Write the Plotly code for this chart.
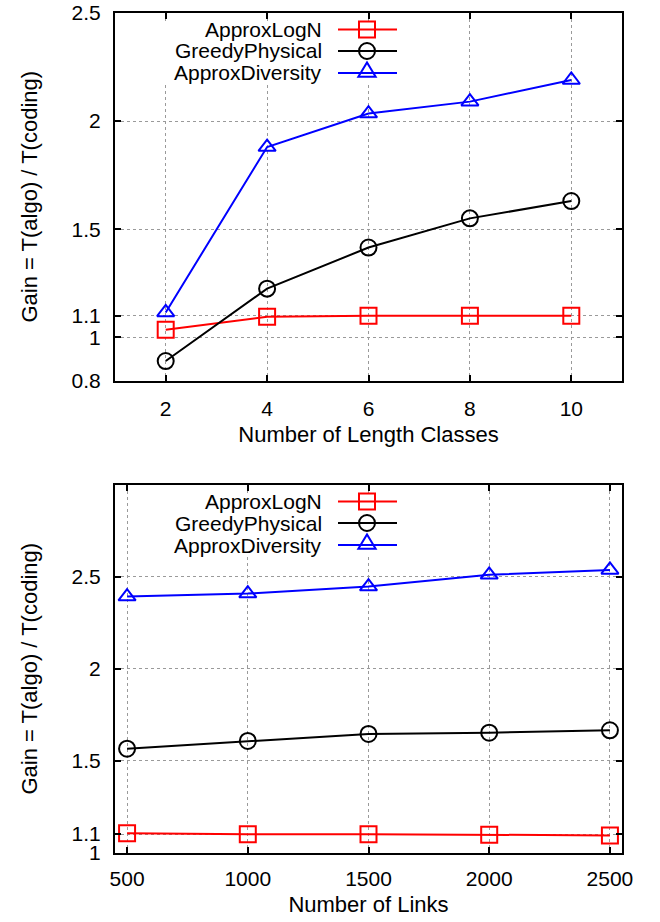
import plotly.graph_objects as go

# ---------------- data ----------------
series_names = ["ApproxLogN", "GreedyPhysical", "ApproxDiversity"]

length_classes = [2, 4, 6, 8, 10]
top_approxlogn = [1.035, 1.095, 1.1, 1.1, 1.1]
top_greedy = [0.89, 1.225, 1.415, 1.55, 1.63]
top_diversity = [1.115, 1.88, 2.035, 2.09, 2.19]

num_links = [500, 1000, 1500, 2000, 2500]
bot_approxlogn = [1.105, 1.1, 1.1, 1.096, 1.093]
bot_greedy = [1.565, 1.607, 1.645, 1.652, 1.665]
bot_diversity = [2.393, 2.409, 2.447, 2.511, 2.538]

top_yticks = [0.8, 1, 1.1, 1.5, 2, 2.5]
top_yticktext = ["0.8", "1", "1.1", "1.5", "2", "2.5"]
bot_yticks = [1, 1.1, 1.5, 2, 2.5, 3]
bot_yticktext = ["1", "1.1", "1.5", "2", "2.5", ""]

colors = ["#ff0000", "#000000", "#0000ff"]
symbols = ["square-open", "circle-open", "triangle-up-open"]
sizes = [16, 16, 15]

W, H = 660, 922
FONT = "Liberation Sans, Arial, Helvetica, sans-serif"
FS_TICK = 21
FS_TITLE = 22
FS_KEY = 21

# pixel boxes of the plot areas (left, top, right, bottom)
TOP_BOX = (115, 13, 622, 380.5)
BOT_BOX = (115, 485, 622, 852.5)

fig = go.Figure()

top_vals = [top_approxlogn, top_greedy, top_diversity]
bot_vals = [bot_approxlogn, bot_greedy, bot_diversity]

for i, name in enumerate(series_names):
    fig.add_trace(go.Scatter(
        x=length_classes, y=top_vals[i], mode="lines+markers", name=name,
        line=dict(color=colors[i], width=2),
        marker=dict(symbol=symbols[i], size=sizes[i], color=colors[i],
                    line=dict(width=2, color=colors[i])),
        xaxis="x", yaxis="y", showlegend=False, cliponaxis=False))
for i, name in enumerate(series_names):
    fig.add_trace(go.Scatter(
        x=num_links, y=bot_vals[i], mode="lines+markers", name=name,
        line=dict(color=colors[i], width=2),
        marker=dict(symbol=symbols[i], size=sizes[i], color=colors[i],
                    line=dict(width=2, color=colors[i])),
        xaxis="x2", yaxis="y2", showlegend=False, cliponaxis=False))


def dom(box, axis):
    L, T, R, B = box
    return [L / W, R / W] if axis == "x" else [1 - B / H, 1 - T / H]


axis_common = dict(
    showline=True, linecolor="black", linewidth=2, mirror="ticks",
    ticks="inside", ticklen=6, tickwidth=1.5, tickcolor="black",
    showgrid=True, gridcolor="#9a9a9a", griddash="dot", gridwidth=1,
    zeroline=False, ticklabeloverflow="allow", automargin=False,
    tickfont=dict(family=FONT, size=FS_TICK, color="black"),
)

fig.update_layout(
    width=W, height=H, margin=dict(l=0, r=0, t=0, b=0, autoexpand=False),
    autosize=False,
    paper_bgcolor="white", plot_bgcolor="white", showlegend=False,
    font=dict(family=FONT, size=FS_TICK, color="black"),
    xaxis=dict(domain=dom(TOP_BOX, "x"), anchor="y", range=[1, 11],
               tickvals=length_classes, ticklabelstandoff=8,
               title=dict(text="Number of Length Classes", standoff=8,
                          font=dict(family=FONT, size=FS_TITLE)),
               **axis_common),
    yaxis=dict(domain=dom(TOP_BOX, "y"), anchor="x", range=[0.8, 2.5],
               tickvals=top_yticks, ticktext=top_yticktext, ticklabelstandoff=8,
               title=dict(text="Gain = T(algo) / T(coding)", standoff=28,
                          font=dict(family=FONT, size=FS_TITLE)),
               **axis_common),
    xaxis2=dict(domain=dom(BOT_BOX, "x"), anchor="y2", range=[450, 2550],
                tickvals=num_links, ticklabelstandoff=6,
                title=dict(text="Number of Links", standoff=8,
                           font=dict(family=FONT, size=FS_TITLE)),
                **axis_common),
    yaxis2=dict(domain=dom(BOT_BOX, "y"), anchor="x2", range=[1, 3],
                tickvals=bot_yticks, ticktext=bot_yticktext, ticklabelstandoff=8,
                title=dict(text="Gain = T(algo) / T(coding)", standoff=28,
                           font=dict(family=FONT, size=FS_TITLE)),
                **axis_common),
)

# ---------------- gnuplot-style key (text left of sample) ----------------
shapes = []
annotations = []


def add_key(box, xr, yr):
    L, T, R, B = box
    w, h = R - L, B - T

    def fx(px):
        return (px - L) / w

    def fy(py):
        return (B - py) / h

    # white key background hiding grid lines (kept clear of the top ticks)
    shapes.append(dict(type="rect", xref=f"{xr} domain", yref=f"{yr} domain",
                       x0=fx(L + 40), x1=fx(L + 290), y0=fy(T + 71), y1=fy(T + 8),
                       fillcolor="white", line=dict(width=0), layer="above"))
    rows = [T + 16.5, T + 38, T + 60]
    text_right = L + 209
    l0, l1, mx = L + 223, L + 282, L + 252
    for i, name in enumerate(series_names):
        py = rows[i]
        annotations.append(dict(xref=f"{xr} domain", yref=f"{yr} domain",
                                x=fx(text_right), y=fy(py), text=name,
                                showarrow=False, xanchor="right", yanchor="middle",
                                font=dict(family=FONT, size=FS_KEY, color="black")))
        shapes.append(dict(type="line", xref=f"{xr} domain", yref=f"{yr} domain",
                           x0=fx(l0), x1=fx(l1), y0=fy(py), y1=fy(py),
                           line=dict(color=colors[i], width=2), layer="above"))
        s = sizes[i]
        r = s / 2
        if i == 0:
            shapes.append(dict(type="rect", xref=f"{xr} domain", yref=f"{yr} domain",
                               x0=fx(mx - r), x1=fx(mx + r), y0=fy(py + r), y1=fy(py - r),
                               line=dict(color=colors[i], width=2), layer="above"))
        elif i == 1:
            shapes.append(dict(type="circle", xref=f"{xr} domain", yref=f"{yr} domain",
                               x0=fx(mx - r), x1=fx(mx + r), y0=fy(py + r), y1=fy(py - r),
                               line=dict(color=colors[i], width=2), layer="above"))
        else:
            rt = r * 2 / 3 ** 0.5
            r2 = r / 2
            rs = r * 2 ** 0.5
            path = (f"M{fx(mx - rt)},{fy(py + r2)} L{fx(mx + rt)},{fy(py + r2)} "
                    f"L{fx(mx)},{fy(py - rs)} Z")
            shapes.append(dict(type="path", xref=f"{xr} domain", yref=f"{yr} domain",
                               path=path, line=dict(color=colors[i], width=2),
                               layer="above"))


add_key(TOP_BOX, "x", "y")
add_key(BOT_BOX, "x2", "y2")

fig.update_layout(shapes=shapes, annotations=annotations)

# place the figure at the page origin (no body margin, no scrollbars)
post = ("document.documentElement.style.margin='0';"
        "document.body.style.margin='0';"
        "document.body.style.padding='0';"
        "document.documentElement.style.overflow='hidden';"
        "document.body.style.overflow='hidden';")

fig.write_html("out.html", config={"responsive": False, "displayModeBar": False},
               post_script=post)
